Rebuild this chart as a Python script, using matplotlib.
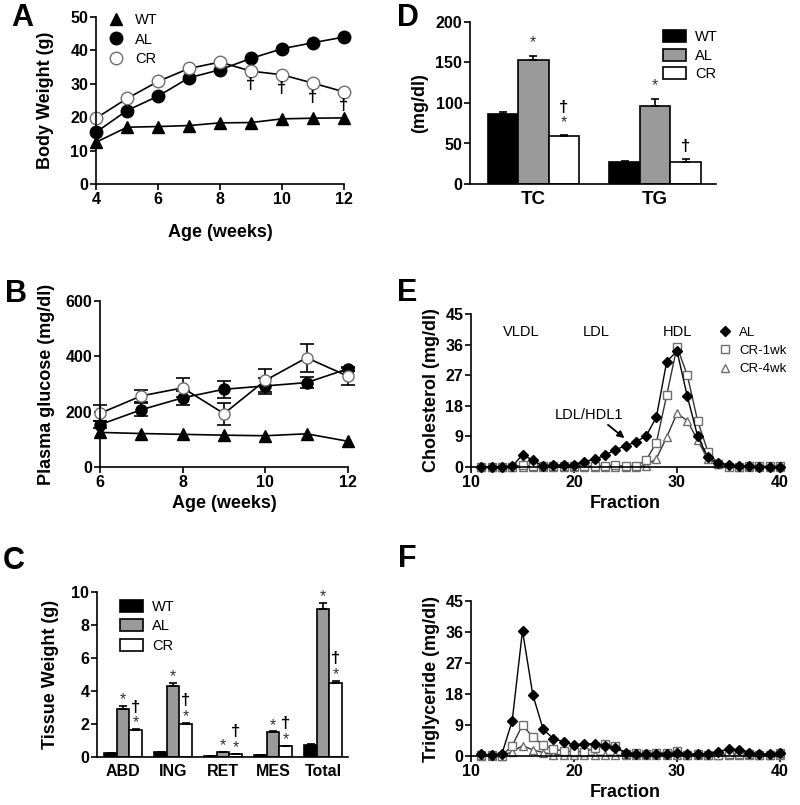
import numpy as np
import matplotlib
matplotlib.use('Agg')
import matplotlib.pyplot as plt

plt.rcParams['font.family'] = ['Liberation Sans', 'DejaVu Sans']
plt.rcParams['font.weight'] = 'bold'
plt.rcParams['axes.labelweight'] = 'bold'
plt.rcParams['axes.linewidth'] = 1.2
plt.rcParams['xtick.major.width'] = 1.2
plt.rcParams['ytick.major.width'] = 1.2
plt.rcParams['xtick.major.size'] = 4
plt.rcParams['ytick.major.size'] = 4
plt.rcParams['xtick.major.pad'] = 2
plt.rcParams['ytick.major.pad'] = 1.5
plt.rcParams['xtick.labelsize'] = 11.5
plt.rcParams['ytick.labelsize'] = 11.5

# Panel A: body weight
weeks_a = [4, 5, 6, 7, 8, 9, 10, 11, 12]
bw_wt = [12.5, 17.0, 17.2, 17.5, 18.3, 18.4, 19.5, 19.7, 19.8]
bw_al = [15.5, 22.0, 26.3, 31.8, 34.2, 37.6, 40.5, 42.3, 44.0]
bw_cr = [19.7, 25.6, 30.7, 34.6, 36.5, 33.8, 32.7, 30.2, 27.6]
bw_dagger = [9, 10, 11, 12]

# Panel B: plasma glucose
weeks_b = [6, 7, 8, 9, 10, 11, 12]
glu_wt = [125, 121, 118, 115, 113, 120, 93]
glu_al = [153, 207, 250, 281, 293, 305, 355]
glu_al_err = [12, 24, 26, 31, 29, 20, 8]
glu_cr = [194, 257, 286, 193, 313, 395, 328]
glu_cr_err = [29, 21, 34, 40, 42, 50, 30]

# Panel C: tissue weight
tissues = ['ABD', 'ING', 'RET', 'MES', 'Total']
tw_wt = [0.25, 0.30, 0.07, 0.12, 0.72]
tw_wt_err = [0.02, 0.02, 0.01, 0.01, 0.04]
tw_al = [2.92, 4.28, 0.28, 1.49, 8.95]
tw_al_err = [0.15, 0.22, 0.03, 0.06, 0.40]
tw_cr = [1.63, 2.03, 0.17, 0.65, 4.50]
tw_cr_err = [0.05, 0.06, 0.02, 0.03, 0.13]

# Panel D: plasma lipids
lipids = ['TC', 'TG']
pl_wt = [86.5, 27.0]
pl_wt_err = [2.5, 1.5]
pl_al = [153.4, 96.5]
pl_al_err = [4.5, 9.0]
pl_cr = [59.4, 26.8]
pl_cr_err = [1.2, 3.5]

# Panels E/F: FPLC fractions
fractions = list(range(11, 41))
chol_al = [0, 0, 0, 0.2, 3.6, 2.0, 0.2, 0.6, 0.5, 0.6, 1.6, 2.3, 3.4, 5.1, 6.2,
           7.4, 9.1, 14.7, 31.0, 34.1, 20.8, 9.1, 2.8, 1.2, 0.7, 0.3, 0.2, 0.1, 0.1, 0.1]
chol_cr1 = [0, 0, 0, 0, 0.5, 0.3, 0.2, 0.2, 0.3, 0.2, 0.2, 0.3, 0.4, 0.5, 0.2,
            0.3, 2.0, 7.2, 21.1, 35.4, 27.0, 13.6, 4.5, 1.0, 0.1, 0.1, 0.3, 0.2, 0.2, 0.2]
chol_cr4 = [0, 0, 0, 0, 0, 0, 0, 0, 0, 0, 0, 0, 0, 0, 0,
            0, 0.4, 2.5, 8.8, 15.8, 13.6, 7.9, 2.3, 0.8, 0.2, 0, 0, 0, 0, 0]
tg_al = [0.5, 0.3, 0.6, 10.2, 36.4, 17.8, 7.8, 5.0, 4.2, 3.2, 3.6, 3.4, 3.0, 2.4, 1.0,
         0.6, 0.5, 0.6, 0.6, 0.8, 0.6, 0.5, 0.6, 1.2, 2.1, 1.8, 0.9, 0.6, 0.6, 0.9]
tg_cr1 = [0.3, 0.4, 0.1, 3.0, 9.0, 5.5, 3.2, 2.0, 1.5, 1.2, 1.3, 2.2, 3.4, 3.0, 0.7,
          0.8, 0.6, 1.0, 0.9, 1.4, 0.4, 0.5, 0.3, 0.4, 0.6, 0.7, 0.5, 0.3, 0.3, 0.8]
tg_cr4 = [0, 0, 0.1, 1.2, 3.0, 1.8, 1.0, 0.4, 0.3, 0.2, 0.2, 0.2, 0.2, 0.2, 0.2,
          0.2, 0.2, 0.2, 0.2, 0.2, 0.2, 0.2, 0.2, 0.2, 0.2, 0.2, 0.2, 0.2, 0.2, 0.2]

W, H = 800, 805
GRAY = '#9a9a9a'
OPEN_EDGE = '#6e6e6e'
STAR = dict(ha='center', va='center', fontsize=11.5, fontweight='normal', color='#333333',
            textcoords='offset points')
DAG = dict(ha='center', va='center', fontsize=12, fontweight='bold', textcoords='offset points')


def box(l, t, r, b):
    return [l / W, 1 - b / H, (r - l) / W, (b - t) / H]


def style(ax):
    ax.spines['top'].set_visible(False)
    ax.spines['right'].set_visible(False)
    ax.tick_params(direction='out')


def bold_ticks(ax):
    plt.setp(ax.get_xticklabels() + ax.get_yticklabels(), fontweight='bold')


def plain_legend(leg, hide_lines=False):
    for t in leg.get_texts():
        t.set_fontweight('normal')
    if hide_lines:
        for h in leg.legend_handles:
            h.set_linestyle('none')


fig = plt.figure(figsize=(8, 8.05), dpi=100)

# ---------- A ----------
ax = fig.add_axes(box(96, 17, 344, 184))
style(ax)
ax.plot(weeks_a, bw_wt, '-^', color='black', ms=9, lw=1.2, clip_on=False, label='WT')
ax.plot(weeks_a, bw_al, '-o', color='black', ms=9, lw=1.2, clip_on=False, label='AL')
ax.plot(weeks_a, bw_cr, '-o', color='black', mfc='white', mec=OPEN_EDGE, ms=9, lw=1.2,
        clip_on=False, label='CR')
for wk in bw_dagger:
    ax.annotate('\u2020', (wk, bw_cr[weeks_a.index(wk)]), xytext=(0, -10), **DAG)
ax.set_xlim(4, 12)
ax.set_ylim(0, 50)
ax.set_xticks([4, 6, 8, 10, 12])
ax.set_yticks([0, 10, 20, 30, 40, 50])
ax.set_xlabel('Age (weeks)', fontsize=13, labelpad=12)
ax.set_ylabel('Body Weight (g)', fontsize=13)
ax.yaxis.set_label_coords(-0.17, 0.5)
bold_ticks(ax)
leg = ax.legend(loc='upper left', bbox_to_anchor=(0.0, 1.1), frameon=False, fontsize=10.5,
                handlelength=1.0, handletextpad=0.8, labelspacing=0.35)
plain_legend(leg, hide_lines=True)

# ---------- B ----------
ax = fig.add_axes(box(100, 301, 348, 467))
style(ax)
ax.plot(weeks_b, glu_wt, '-^', color='black', ms=8, lw=1.2, clip_on=False)
ax.errorbar(weeks_b, glu_al, yerr=glu_al_err, fmt='-o', color='black', ms=8, lw=1.2,
            capsize=5, elinewidth=1.2, capthick=1.2, clip_on=False)
ax.errorbar(weeks_b, glu_cr, yerr=glu_cr_err, fmt='-o', color='black', mfc='white',
            mec=OPEN_EDGE, ms=8, lw=1.2, capsize=5, elinewidth=1.2, capthick=1.2, clip_on=False)
ax.set_xlim(6, 12)
ax.set_ylim(0, 600)
ax.set_xticks([6, 8, 10, 12])
ax.set_yticks([0, 200, 400, 600])
ax.set_xlabel('Age (weeks)', fontsize=13, labelpad=3)
ax.set_ylabel('Plasma glucose (mg/dl)', fontsize=13)
ax.yaxis.set_label_coords(-0.18, 0.5)
bold_ticks(ax)

# ---------- C ----------
ax = fig.add_axes(box(97, 592, 348, 757))
style(ax)
x = np.arange(len(tissues))
bw = 0.25
kw = dict(width=bw, edgecolor='black', linewidth=1.2, capsize=3,
          error_kw=dict(elinewidth=1.2, capthick=1.2))
ax.bar(x - bw, tw_wt, yerr=[np.zeros(5), tw_wt_err], color='black', label='WT', **kw)
ax.bar(x, tw_al, yerr=[np.zeros(5), tw_al_err], color=GRAY, label='AL', **kw)
ax.bar(x + bw, tw_cr, yerr=[np.zeros(5), tw_cr_err], color='white', label='CR', **kw)
for i in range(len(tissues)):
    ax.annotate('*', (x[i], tw_al[i] + tw_al_err[i]), xytext=(0, 4.5), **STAR)
    ax.annotate('*', (x[i] + bw, tw_cr[i] + tw_cr_err[i]), xytext=(0, 4.5), **STAR)
    ax.annotate('\u2020', (x[i] + bw, tw_cr[i] + tw_cr_err[i]), xytext=(0, 16), **DAG)
ax.set_xlim(-0.52, 4.5)
ax.set_ylim(0, 10)
ax.set_xticks(x)
ax.set_xticklabels(tissues, fontsize=11.5)
ax.tick_params(axis='x', length=0, pad=5)
ax.set_yticks([0, 2, 4, 6, 8, 10])
ax.set_ylabel('Tissue Weight (g)', fontsize=13)
ax.yaxis.set_label_coords(-0.15, 0.5)
bold_ticks(ax)
leg = ax.legend(loc='upper left', bbox_to_anchor=(0.04, 1.03), frameon=False, fontsize=10.5,
                handlelength=1.6, handleheight=0.9, handletextpad=0.6, labelspacing=0.35)
plain_legend(leg)

# ---------- D ----------
ax = fig.add_axes(box(470, 22, 716, 184))
style(ax)
x = np.arange(len(lipids))
ax.bar(x - bw, pl_wt, yerr=[np.zeros(2), pl_wt_err], color='black', label='WT', **kw)
ax.bar(x, pl_al, yerr=[np.zeros(2), pl_al_err], color=GRAY, label='AL', **kw)
ax.bar(x + bw, pl_cr, yerr=[np.zeros(2), pl_cr_err], color='white', label='CR', **kw)
for i in range(len(lipids)):
    ax.annotate('*', (x[i], pl_al[i] + pl_al_err[i]), xytext=(0, 9.5), **STAR)
ax.annotate('*', (x[0] + bw, pl_cr[0] + pl_cr_err[0]), xytext=(0, 9), **STAR)
ax.annotate('\u2020', (x[0] + bw, pl_cr[0] + pl_cr_err[0]), xytext=(0, 20), **DAG)
ax.annotate('\u2020', (x[1] + bw, pl_cr[1] + pl_cr_err[1]), xytext=(0, 9), **DAG)
ax.set_xlim(-0.52, 1.5)
ax.set_ylim(0, 200)
ax.set_xticks(x)
ax.set_xticklabels(lipids, fontsize=13.5)
ax.tick_params(axis='x', length=0, pad=5)
ax.set_yticks([0, 50, 100, 150, 200])
ax.set_ylabel('(mg/dl)', fontsize=13)
ax.yaxis.set_label_coords(-0.17, 0.5)
bold_ticks(ax)
leg = ax.legend(loc='upper right', bbox_to_anchor=(1.06, 1.03), frameon=False, fontsize=10.5,
                handlelength=1.6, handleheight=0.9, handletextpad=0.6, labelspacing=0.3)
plain_legend(leg)

# ---------- E ----------
ax = fig.add_axes(box(471, 314, 780, 467))
style(ax)
ax.plot(fractions, chol_cr4, '-^', color='#333333', mfc='white', mec=OPEN_EDGE, ms=6,
        lw=1.0, clip_on=False, label='CR-4wk')
ax.plot(fractions, chol_cr1, '-s', color='#333333', mfc='white', mec=OPEN_EDGE, ms=6,
        lw=1.0, clip_on=False, label='CR-1wk')
ax.plot(fractions, chol_al, '-D', color='black', ms=5.5, lw=1.0, clip_on=False, label='AL')
ax.set_xlim(10, 40)
ax.set_ylim(0, 45)
ax.set_xticks([10, 20, 30, 40])
ax.set_yticks([0, 9, 18, 27, 36, 45])
ax.set_xlabel('Fraction', fontsize=13, labelpad=3)
ax.set_ylabel('Cholesterol (mg/dl)', fontsize=13)
ax.yaxis.set_label_coords(-0.10, 0.5)
bold_ticks(ax)
for lab, fx in [('VLDL', 14.9), ('LDL', 22.2), ('HDL', 30.0)]:
    ax.text(fx, 39.8, lab, ha='center', va='center', fontsize=10.5, fontweight='normal')
ax.text(21.5, 15.2, 'LDL/HDL1', ha='center', va='center', fontsize=10.5, fontweight='normal')
ax.annotate('', xy=(24.9, 8.5), xytext=(23.3, 12.4),
            arrowprops=dict(arrowstyle='-|>', color='black', lw=1.3, shrinkA=0, shrinkB=0,
                            mutation_scale=10))
handles, labels = ax.get_legend_handles_labels()
leg = ax.legend(handles[::-1], labels[::-1], loc='upper left', bbox_to_anchor=(0.765, 0.995),
                frameon=False, fontsize=9.5, handlelength=0.9, handletextpad=0.6,
                labelspacing=0.45)
plain_legend(leg, hide_lines=True)

# ---------- F ----------
ax = fig.add_axes(box(471, 601, 780, 756))
style(ax)
ax.plot(fractions, tg_cr4, '-^', color='#333333', mfc='white', mec=OPEN_EDGE, ms=6,
        lw=1.0, clip_on=False)
ax.plot(fractions, tg_cr1, '-s', color='#333333', mfc='white', mec=OPEN_EDGE, ms=6,
        lw=1.0, clip_on=False)
ax.plot(fractions, tg_al, '-D', color='black', ms=5.5, lw=1.0, clip_on=False)
ax.set_xlim(10, 40)
ax.set_ylim(0, 45)
ax.set_xticks([10, 20, 30, 40])
ax.set_yticks([0, 9, 18, 27, 36, 45])
ax.set_xlabel('Fraction', fontsize=13, labelpad=3)
ax.set_ylabel('Triglyceride (mg/dl)', fontsize=13)
ax.yaxis.set_label_coords(-0.10, 0.5)
bold_ticks(ax)

# panel letters
for letter, px, py in [('A', 22, 18), ('B', 16, 294), ('C', 14, 561),
                       ('D', 408, 18), ('E', 407, 293), ('F', 407, 559)]:
    fig.text(px / W, 1 - py / H, letter, fontsize=22, fontweight='bold', ha='center', va='center')

fig.savefig('out.png', dpi=100)
